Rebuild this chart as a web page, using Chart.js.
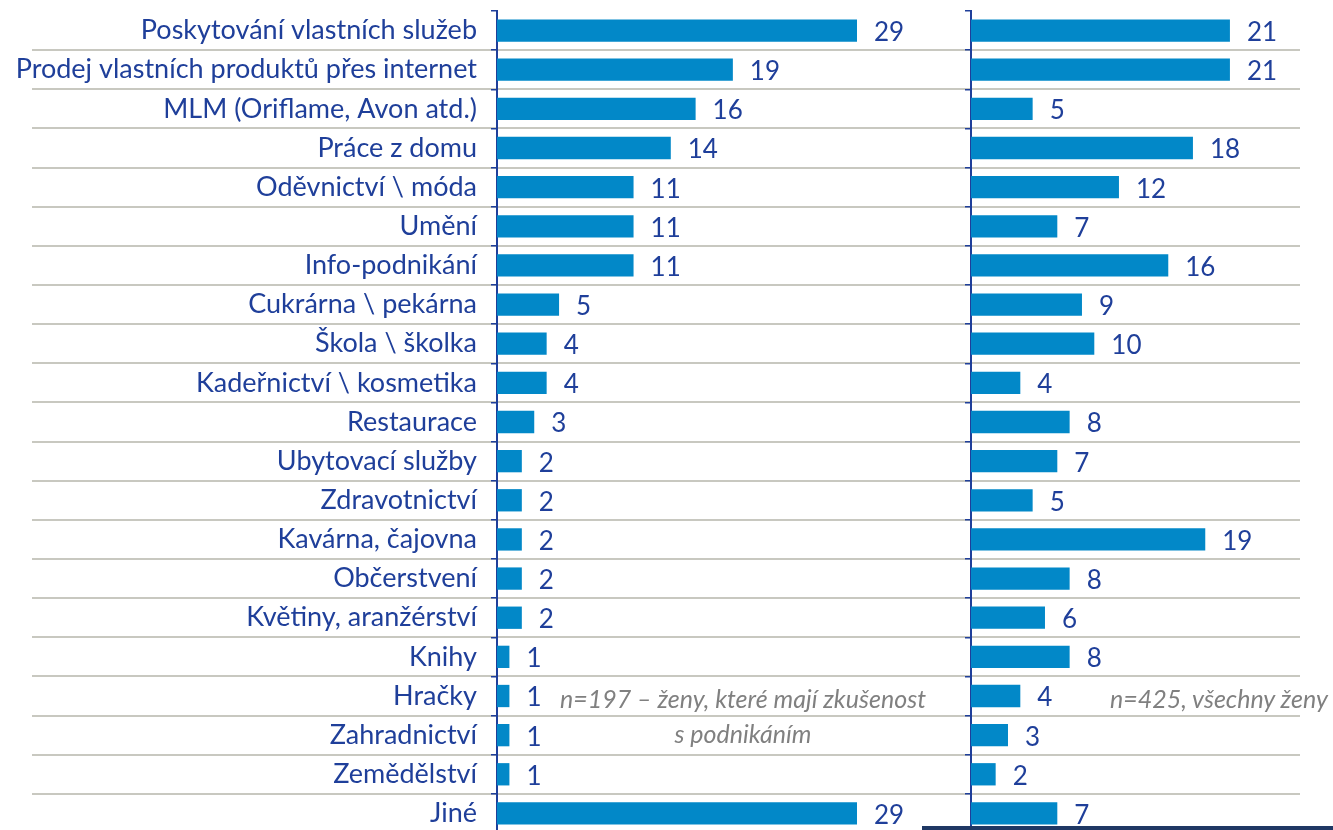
<!DOCTYPE html>
<html lang="cs">
<head>
<meta charset="utf-8">
<title>Oblasti podnikání</title>
<script src="https://cdn.jsdelivr.net/npm/chart.js@4.4.1/dist/chart.umd.min.js"></script>
<style>
  html, body { margin: 0; padding: 0; background: #fff; overflow: hidden; }
  #wrap { position: relative; width: 1333px; height: 830px; overflow: hidden; }
  canvas { position: absolute; top: 0; }
  #leftChart { left: 0; }
  #rightChart { left: 960px; }
  .note { position: absolute; font-family: Lato, "Noto Sans", sans-serif; font-style: italic; color: #808080; font-size: 25px; line-height: 30px; white-space: nowrap; text-align: center; }
  #bottomLine { position: absolute; left: 922px; top: 826px; width: 411px; height: 4px; background: #1f3864; }
</style>
</head>
<body>
<div id="wrap">
  <canvas id="leftChart" width="965" height="834"></canvas>
  <canvas id="rightChart" width="373" height="834"></canvas>
  <div class="note" style="left:543px; top:683px; width:400px;">n=197 – ženy, které mají zkušenost</div>
  <div class="note" style="left:543px; top:718px; width:400px;">s podnikáním</div>
  <div class="note" style="left:1110px; top:683px;">n=425, všechny ženy</div>
  <div id="bottomLine"></div>
</div>
<script>
// Oblasti podnikání – dvě skupiny žen (%)
const categories = [
  "Poskytování vlastních služeb",
  "Prodej vlastních produktů přes internet",
  "MLM (Oriflame, Avon atd.)",
  "Práce z domu",
  "Oděvnictví \\ móda",
  "Umění",
  "Info-podnikání",
  "Cukrárna \\ pekárna",
  "Škola \\ školka",
  "Kadeřnictví \\ kosmetika",
  "Restaurace",
  "Ubytovací služby",
  "Zdravotnictví",
  "Kavárna, čajovna",
  "Občerstvení",
  "Květiny, aranžérství",
  "Knihy",
  "Hračky",
  "Zahradnictví",
  "Zemědělství",
  "Jiné"
]
// n=197 – ženy, které mají zkušenost s podnikáním
const leftValues = [29, 19, 16, 14, 11, 11, 11, 5, 4, 4, 3, 2, 2, 2, 2, 2, 1, 1, 1, 1, 29]
// n=425, všechny ženy
const rightValues = [21, 21, 5, 18, 12, 7, 16, 9, 10, 4, 8, 7, 5, 19, 8, 6, 8, 4, 3, 2, 7]

const barBlue = "#0288c8"
const textBlue = "#1f3f9a"
const gridGrey = "#c8c8c0"
const fontFamily = "Lato, 'Noto Sans', sans-serif"

// grey separator lines between the rows
const rowLines = {
  id: "rowLines",
  beforeDraw(chart, args, opts) {
    const y = chart.scales.y
    const ctx = chart.ctx
    ctx.save()
    ctx.strokeStyle = gridGrey
    ctx.lineWidth = 2
    for (let i = 0; i < y.ticks.length - 1; i++) {
      const yy = Math.round((y.getPixelForTick(i) + y.getPixelForTick(i + 1)) / 2)
      ctx.beginPath()
      ctx.moveTo(opts.x0, yy)
      ctx.lineTo(opts.x1, yy)
      ctx.stroke()
    }
    ctx.restore()
  }
}

// numbers right of each bar
const valueLabels = {
  id: "valueLabels",
  afterDatasetsDraw(chart) {
    const ctx = chart.ctx
    const meta = chart.getDatasetMeta(0)
    const data = chart.data.datasets[0].data
    ctx.save()
    ctx.font = "26px " + fontFamily
    ctx.fillStyle = textBlue
    ctx.textBaseline = "middle"
    ctx.textAlign = "left"
    meta.data.forEach((bar, i) => {
      ctx.fillText(String(data[i]), bar.x + 17, bar.y + 2)
    })
    ctx.restore()
  }
}

function makeChart(id, values, opts) {
  const ctx = document.getElementById(id).getContext("2d")
  return new Chart(ctx, {
    type: "bar",
    data: {
      labels: categories,
      datasets: [
        {
          data: values,
          backgroundColor: barBlue,
          borderWidth: 0,
          categoryPercentage: 1,
          barPercentage: 0.57,
        },
      ],
    },
    options: {
      indexAxis: "y",
      responsive: false,
      animation: false,
      events: [],
      layout: { padding: { top: 11, bottom: 1, left: 0, right: 0 } },
      plugins: {
        legend: { display: false },
        tooltip: { enabled: false },
        rowLines: { x0: opts.lineFrom, x1: opts.lineTo },
      },
      scales: {
        x: {
          display: false,
          min: 0,
          max: opts.max,
        },
        y: {
          offset: true,
          border: { display: true, color: textBlue, width: 2 },
          grid: {
            offset: true,
            drawOnChartArea: false,
            drawTicks: true,
            tickLength: 6,
            color: textBlue,
            lineWidth: 1.5,
          },
          ticks: {
            display: opts.showLabels,
            autoSkip: false,
            padding: 14,
            color: textBlue,
            font: { family: fontFamily, size: 27 },
          },
          afterFit(scale) {
            scale.width = opts.axisWidth
            scale.paddingTop = 0
            scale.paddingBottom = 0
          },
        },
      },
    },
    plugins: [rowLines, valueLabels],
  })
}

document.addEventListener("DOMContentLoaded", () => {
  makeChart("leftChart", leftValues, { max: 37.7, axisWidth: 497, showLabels: true, lineFrom: 32, lineTo: 965 })
  makeChart("rightChart", rightValues, { max: 29.36, axisWidth: 11, showLabels: false, lineFrom: 0, lineTo: 340 })
})
</script>
</body>
</html>
